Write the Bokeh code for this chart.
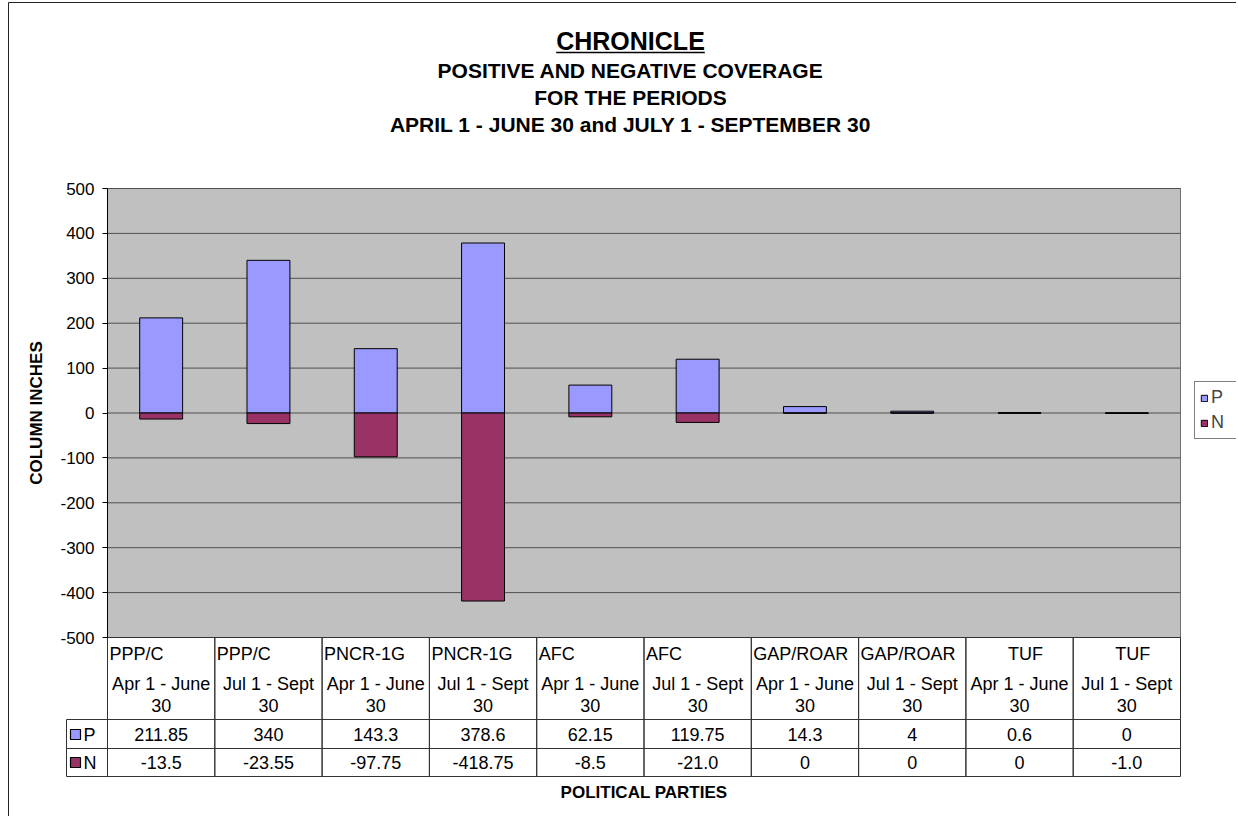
from bokeh.plotting import figure
from bokeh.models import (Range1d, FixedTicker, LinearAxis, PrintfTickFormatter,
                          ColumnDataSource, Legend, LegendItem)
from bokeh.core.properties import value
from bokeh.embed import file_html
from bokeh.resources import INLINE

# ---------------- data ----------------
parties = ["PPP/C", "PPP/C", "PNCR-1G", "PNCR-1G", "AFC", "AFC",
           "GAP/ROAR", "GAP/ROAR", "TUF", "TUF"]
periods = ["Apr 1 - June 30", "Jul 1 - Sept 30"] * 5
p_values = [211.85, 340, 143.3, 378.6, 62.15, 119.75, 14.3, 4, 0.6, 0]
n_values = [-13.5, -23.55, -97.75, -418.75, -8.5, -21.0, 0, 0, 0, -1.0]
series_names = ["P", "N"]
y_ticks = [-500, -400, -300, -200, -100, 0, 100, 200, 300, 400, 500]
title_main = "CHRONICLE"
title_lines = ["POSITIVE AND NEGATIVE COVERAGE", "FOR THE PERIODS",
               "APRIL 1 - JUNE 30 and JULY 1 - SEPTEMBER 30"]
x_title = "POLITICAL PARTIES"
y_title = "COLUMN INCHES"

# ---------------- styles / layout (pixels) ----------------
P_COLOR = "#9999FF"
N_COLOR = "#993366"
FONT = "Liberation Sans"
W, H = 1236, 816
PL, PR, PT, PB = 107, 1180, 188, 637      # plot area in canvas px
n = len(parties)
X0, X1 = -0.5, n - 0.5
Y0, Y1 = y_ticks[0], y_ticks[-1]
DX = (X1 - X0) / (PR - PL)
DY = (Y1 - Y0) / (PB - PT)


def xd(px):
    return X0 + (px - PL) * DX


def yd(py):
    return Y1 - (py - PT) * DY


xs = list(range(n))

p = figure(width=W, height=H, min_border=0,
           x_range=Range1d(xd(0), xd(W)), y_range=Range1d(yd(H), yd(0)),
           x_axis_location=None, y_axis_location=None,
           toolbar_location=None, output_backend="svg",
           background_fill_color="white", border_fill_color="white",
           outline_line_color=None)
p.grid.visible = False

# outer chart border
p.quad(left=[xd(8)], right=[xd(W + 10)], top=[yd(2)], bottom=[yd(H + 10)],
       fill_alpha=0, line_color="#222222", line_width=1)

# plot area
p.quad(left=[X0], right=[X1], top=[Y1], bottom=[Y0],
       fill_color="#C0C0C0", line_color="#707070", line_width=1)
p.segment(x0=[X0] * len(y_ticks), x1=[X1] * len(y_ticks), y0=y_ticks, y1=y_ticks,
          line_color="#505050", line_width=1)

src = ColumnDataSource(dict(x=xs, p=p_values, n=n_values))
rp = p.vbar(x="x", top="p", bottom=0, width=0.4, source=src,
            fill_color=P_COLOR, line_color="black", line_width=1)
rn = p.vbar(x="x", top="n", bottom=0, width=0.4, source=src,
            fill_color=N_COLOR, line_color="black", line_width=1)

# y axis at the plot-area edge
ax = LinearAxis(fixed_location=X0, bounds=(Y0, Y1),
                ticker=FixedTicker(ticks=y_ticks),
                formatter=PrintfTickFormatter(format="%d"))
ax.major_tick_in = 0
ax.major_tick_out = 5
ax.minor_tick_line_color = None
ax.axis_line_color = "black"
ax.major_tick_line_color = "black"
ax.major_label_text_font = FONT
ax.major_label_text_font_size = "17px"
ax.major_label_text_color = "black"
ax.major_label_standoff = 8
ax.axis_label = y_title
ax.axis_label_text_font = FONT
ax.axis_label_text_font_size = "17px"
ax.axis_label_text_font_style = "bold"
ax.axis_label_text_color = "black"
ax.axis_label_standoff = 11
p.add_layout(ax, "left")

legend = Legend(items=[LegendItem(label=series_names[0], renderers=[rp]),
                       LegendItem(label=series_names[1], renderers=[rn])],
                location=(1194, H - 439), orientation="vertical",
                padding=5, spacing=4, margin=0,
                glyph_width=8, glyph_height=8, label_standoff=3,
                label_width=22, label_height=20,
                label_text_font=FONT, label_text_font_size="18px",
                border_line_color="black", border_line_width=1,
                background_fill_color="white", background_fill_alpha=1)
p.add_layout(legend)

common = dict(text_font=value(FONT), text_color="black", text_baseline="middle")
TS = "18px"

# ---------------- titles ----------------
TCX = xd(630)
p.text(x=[TCX], y=[yd(40)], text=[title_main], text_align="center",
       text_font_size="25px", text_font_style="bold", **common)
ul_half = 0.5 * 5.944 * 25
p.segment(x0=[xd(630 - ul_half)], x1=[xd(630 + ul_half)], y0=[yd(52)], y1=[yd(52)],
          line_color="black", line_width=1.6)
p.text(x=[TCX] * 3, y=[yd(70), yd(97), yd(124)], text=title_lines, text_align="center",
       text_font_size="21px", text_font_style="bold", **common)

# ---------------- data table ----------------
LINE = "#333333"
R0, R1, R2, R3 = PB, 719, 748, 776
rows = [(R0, R1), (R1, R2), (R2, R3)]
cl, cr, ct, cb = [], [], [], []
for i in xs:
    for top, bot in rows:
        cl.append(i - 0.5); cr.append(i + 0.5); ct.append(yd(top)); cb.append(yd(bot))
for top, bot in rows[1:]:
    cl.append(xd(66)); cr.append(X0); ct.append(yd(top)); cb.append(yd(bot))
p.quad(left=cl, right=cr, top=ct, bottom=cb, fill_alpha=0,
       line_color=LINE, line_width=1)

# key squares + labels
key_tops = [729, 757]
p.quad(left=[xd(70)] * 2, right=[xd(80)] * 2,
       top=[yd(t) for t in key_tops], bottom=[yd(t + 10) for t in key_tops],
       fill_color=[P_COLOR, N_COLOR], line_color="black", line_width=1.2)
p.text(x=[xd(83)] * 2, y=[yd(t + 5) for t in key_tops], text=series_names,
       text_align="left", text_font_size=TS, **common)

# party names (TUF centred as in the original)
left_i = [i for i in xs if parties[i] != "TUF"]
ctr_i = [i for i in xs if parties[i] == "TUF"]
p.text(x=[i - 0.5 + 2 * DX for i in left_i], y=[yd(653)] * len(left_i),
       text=[parties[i] for i in left_i], text_align="left",
       text_font_size=TS, **common)
p.text(x=[i + 6 * DX for i in ctr_i], y=[yd(653)] * len(ctr_i),
       text=[parties[i] for i in ctr_i], text_align="center",
       text_font_size=TS, **common)

# periods, wrapped on two lines
per1 = [s.rsplit(" ", 1)[0] for s in periods]
per2 = [s.rsplit(" ", 1)[1] for s in periods]
p.text(x=xs, y=[yd(683)] * n, text=per1, text_align="center",
       text_font_size=TS, **common)
p.text(x=xs, y=[yd(705)] * n, text=per2, text_align="center",
       text_font_size=TS, **common)

# values
p.text(x=xs, y=[yd(734)] * n, text=[str(v) for v in p_values], text_align="center",
       text_font_size=TS, **common)
p.text(x=xs, y=[yd(762)] * n, text=[str(v) for v in n_values], text_align="center",
       text_font_size=TS, **common)

# x title
p.text(x=[(X0 + X1) / 2], y=[yd(792)], text=[x_title], text_align="center",
       text_font_size="17px", text_font_style="bold", **common)

open("out.html", "w").write(file_html(p, INLINE))
